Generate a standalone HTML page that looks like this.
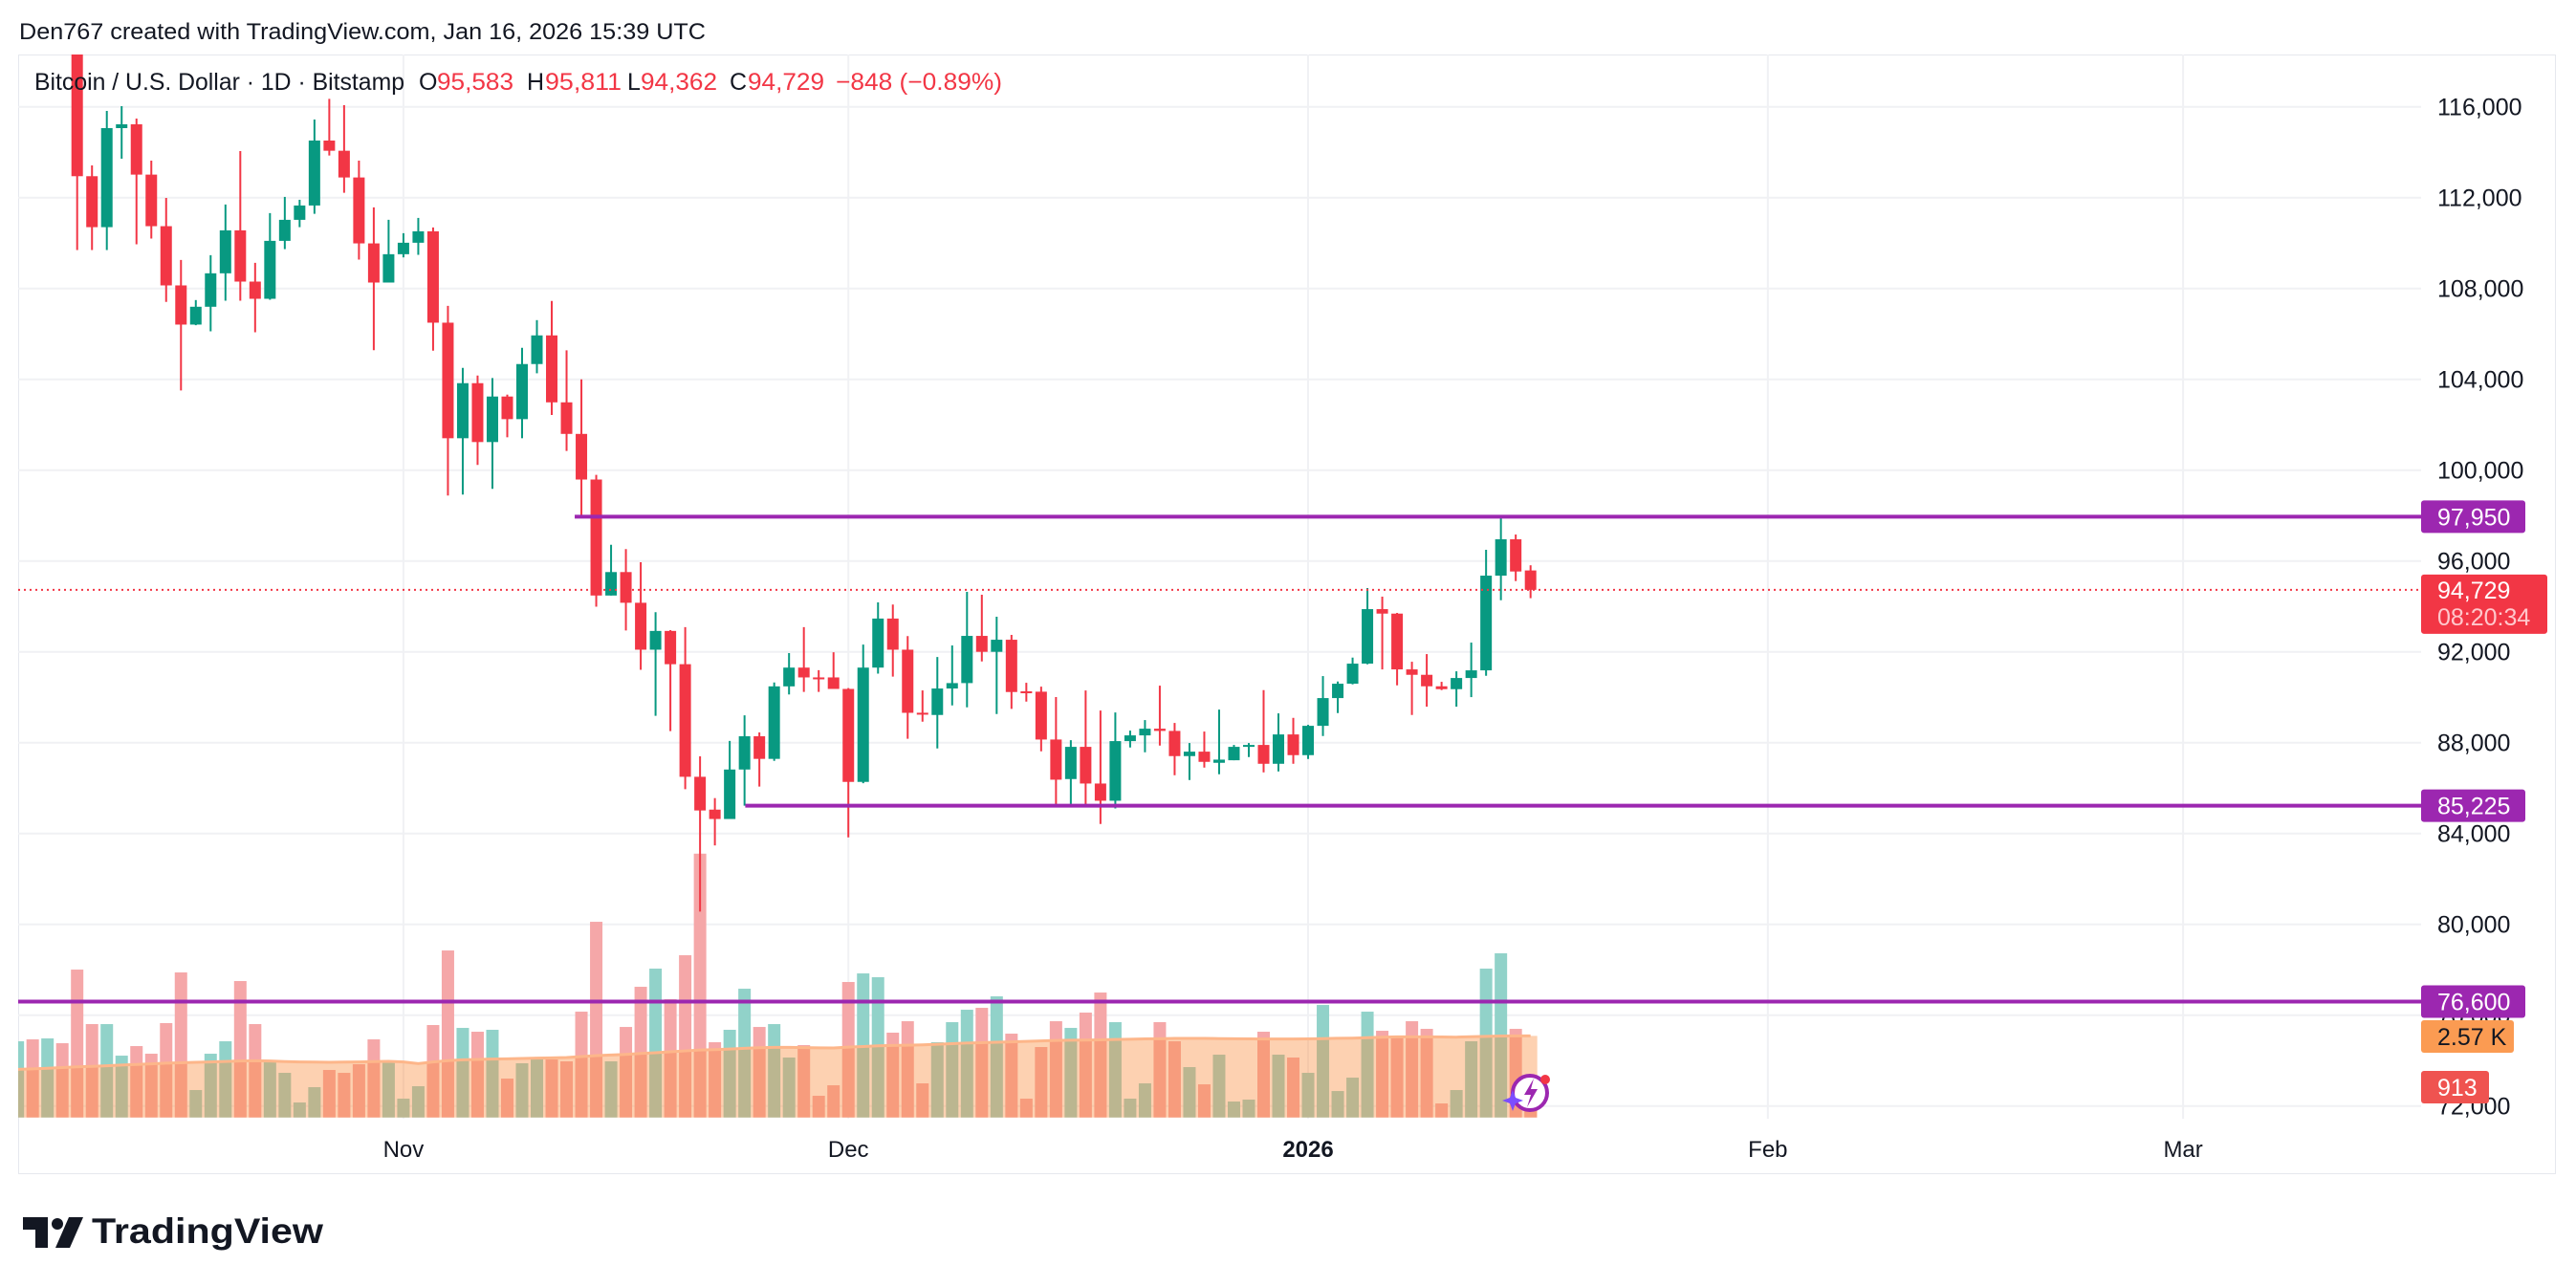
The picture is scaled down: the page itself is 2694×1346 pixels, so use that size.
<!DOCTYPE html>
<html><head><meta charset="utf-8">
<style>
html,body{margin:0;padding:0;background:#fff;}
svg{display:block;font-family:"Liberation Sans",Arial,sans-serif;}
</style></head>
<body>
<svg id="chart" width="2694" height="1346" viewBox="0 0 2694 1346" xmlns="http://www.w3.org/2000/svg">
  <rect x="0" y="0" width="2694" height="1346" fill="#ffffff"/>
  <text x="20" y="41" font-size="24" fill="#131722" textLength="718" lengthAdjust="spacingAndGlyphs">Den767 created with TradingView.com, Jan 16, 2026 15:39 UTC</text>
  <rect x="19.5" y="57.5" width="2653" height="1170" fill="none" stroke="#e6e8ee" stroke-width="1"/>
  <defs><clipPath id="plotClip"><rect x="19" y="57" width="2513" height="1113"/></clipPath></defs>
  <g id="grid"></g>
  <g id="volume" clip-path="url(#plotClip)"></g>
  <g id="candles" clip-path="url(#plotClip)"></g>
  <g id="levels"></g>
  <g id="axis"></g>
  <g id="timeaxis"></g>
  <text y="94" font-size="25">
    <tspan x="36" fill="#131722" textLength="387" lengthAdjust="spacingAndGlyphs">Bitcoin / U.S. Dollar · 1D · Bitstamp</tspan>
    <tspan x="438" fill="#131722">O</tspan><tspan x="457" fill="#f23645" textLength="80" lengthAdjust="spacingAndGlyphs">95,583</tspan>
    <tspan x="551" fill="#131722">H</tspan><tspan x="570" fill="#f23645" textLength="80" lengthAdjust="spacingAndGlyphs">95,811</tspan>
    <tspan x="656" fill="#131722">L</tspan><tspan x="670" fill="#f23645" textLength="80" lengthAdjust="spacingAndGlyphs">94,362</tspan>
    <tspan x="763" fill="#131722">C</tspan><tspan x="782" fill="#f23645" textLength="80" lengthAdjust="spacingAndGlyphs">94,729</tspan>
    <tspan x="874" fill="#f23645" textLength="174" lengthAdjust="spacingAndGlyphs">−848 (−0.89%)</tspan>
  </text>
  <g>
    <circle cx="1600" cy="1143" r="18" fill="#fff" stroke="#9c27b0" stroke-width="4"/>
    <path d="M1604 1128 L1594 1145 L1601 1145 L1597 1158 L1608 1139 L1601 1139 Z" fill="#9c27b0"/>
    <path d="M1582 1140 L1585 1148 L1593 1151 L1585 1154 L1582 1162 L1579 1154 L1571 1151 L1579 1148 Z" fill="#7c4dff"/>
    <circle cx="1616" cy="1129" r="5" fill="#f23645"/>
  </g>
  <g>
    <path d="M24 1273 H50 V1305 H37 V1286 H24 Z" fill="#131722"/>
    <circle cx="60" cy="1280" r="6" fill="#131722"/>
    <path d="M72 1273 H87 L73 1305 H58 Z" fill="#131722"/>
    <text x="96" y="1300" font-size="37" font-weight="bold" fill="#131722" textLength="242" lengthAdjust="spacingAndGlyphs">TradingView</text>
  </g>
</svg>
<script>
// ---- data (Oct 6, 2025 .. Jan 16, 2026), daily ----
const startDate = "2025-10-06";
const opens  = [123500,124700,121400,123300,121700,112944,110700,115061,115229,113014,110743,108135,106410,107195,108668,110560,108303,107546,110097,111023,111654,114514,114065,112888,109985,108261,109509,110014,110518,106494,101405,103830,101237,103242,102246,104672,105934,102986,101596,99587,94479,95512,94160,92094,92920,91455,86497,85051,84638,86817,88281,87286,90479,91305,90873,90873,90366,86272,91305,93465,92094,89317,89219,90384,90623,92701,92000,92532,90260,90244,88138,86397,87815,86200,85442,88068,88320,88615,88517,87408,87604,87113,87225,87857,87899,87070,88362,87450,88741,89963,90595,91479,93880,93683,91226,90988,90482,90356,90847,91184,95354,96955,95583];
const highs  = [126200,125200,124100,123800,122500,113420,115818,116028,115481,113631,111990,109256,107490,109467,111696,114051,109130,111317,112032,111906,115439,116350,116070,113631,111570,111023,110434,111107,110686,107237,104504,104167,104055,103326,105387,106606,107448,105277,104000,99794,96714,96526,95944,93746,92957,93089,87399,85558,88075,89202,88450,90648,91944,93089,91192,91981,90404,92319,94178,94084,92695,90300,91774,92280,94638,94512,93543,92743,90637,90468,90006,88110,90300,89416,89331,88531,88994,90510,88868,87983,88489,89457,87900,87983,90314,89289,89092,88784,90932,90693,91746,94807,94428,93712,91563,91900,90679,91142,92406,96491,97923,97165,95811];
const lows   = [123100,121000,121100,119700,109691,109691,109691,113715,109943,110196,107406,103508,106382,106116,107462,107462,106074,107504,109733,110700,111289,113855,112215,109270,105284,108261,109369,109481,105261,98882,98924,100227,99176,101447,101405,104265,102429,100845,97972,93990,94479,92939,91211,89183,88507,85953,80563,83474,84638,85225,86066,87200,90122,90235,90235,90366,83831,86216,91042,90911,88169,88924,87744,89640,89556,91579,89261,89486,89808,87618,85147,85288,85288,84417,85105,87787,87576,87871,86565,86354,86902,86607,87225,87366,86691,86733,87070,87281,88292,89303,90567,91451,91226,90524,89219,89584,90314,89584,90005,90946,94273,95115,94362];
const closes = [124700,121400,123300,121700,112944,110700,115061,115229,113014,110743,108135,106410,107195,108668,110560,108303,107546,110097,111023,111654,114514,114065,112888,109985,108261,109509,110014,110518,106494,101405,103830,101237,103242,102246,104672,105934,102986,101596,99587,94479,95512,94160,92094,92920,91455,86497,85014,84638,86817,88281,87286,90479,91305,90873,90850,90366,86272,91305,93465,92094,89314,89260,90384,90623,92701,92000,92532,90230,90230,88138,86369,87815,86200,85442,88068,88320,88615,88517,87408,87604,87155,87253,87815,87899,87070,88362,87450,88741,89963,90595,91479,93880,93683,91226,90988,90482,90356,90847,91184,95354,96955,95537,94729];
const volumes = [2414,2475,2505,2353,4686,2959,2959,1959,2262,2020,2990,4596,869,2020,2414,4323,2959,1747,1414,475,960,1505,1414,1687,2475,1808,596,990,2929,5292,2838,2717,2778,1232,1717,1869,1838,1778,3353,6201,1778,2868,4141,4717,3747,5141,8360,2384,2778,4080,2868,2959,1899,2293,687,1020,4293,4565,4444,2687,3050,1081,2384,3020,3414,3474,3838,2656,596,2232,3050,2838,3323,3959,3020,596,1081,3020,2414,1596,1050,1990,505,566,2717,1990,1899,1414,3565,838,1262,3353,2747,2535,3050,2808,444,869,2414,4717,5202,2808,913];
const volMA = [1525,1540,1560,1580,1606,1620,1640,1660,1680,1700,1720,1735,1750,1760,1775,1790,1798,1790,1770,1760,1755,1750,1755,1760,1770,1778,1760,1707,1760,1800,1828,1840,1850,1858,1870,1880,1890,1899,1930,1960,1980,2000,2030,2050,2080,2110,2140,2151,2170,2190,2210,2222,2222,2215,2205,2202,2230,2250,2270,2283,2290,2300,2320,2340,2360,2370,2384,2395,2410,2425,2440,2450,2454,2460,2470,2480,2490,2495,2505,2505,2505,2500,2495,2490,2485,2485,2485,2490,2500,2510,2515,2530,2545,2555,2555,2555,2550,2545,2560,2570,2580,2586,2586];
const priceTicks = [72000,76000,80000,84000,88000,92000,96000,100000,104000,108000,112000,116000];
const priceTickLabels = ["72,000","76,000","80,000","84,000","88,000","92,000","96,000","100,000","104,000","108,000","112,000","116,000"];
const timeTickIndex = [26,56,87,118,146];
const timeTickLabels = ["Nov","Dec","2026","Feb","Mar"];
const levelPrices = [97950,85225,76600];
const levelLabels = ["97,950","85,225","76,600"];
const levelStartIndex = [38,49.5,-1];
const lastPrice = 94729;

// ---- axis functions ----
const NS = "http://www.w3.org/2000/svg";
const PLOT_L = 19, PLOT_R = 2532, PLOT_T = 57, PLOT_B = 1170;
const X0 = 18.66, STEP = 15.51;
function xScale(i){ return X0 + i*STEP; }
function yScale(p){ return 586.7 + (96000 - p)*0.02375; }
const VOL_BASE = 1168.7, VOL_K = 1/30.3;
function vScale(v){ return VOL_BASE - v*VOL_K; }
function mk(tag, attrs, parent){ const e=document.createElementNS(NS,tag); for(const k in attrs) e.setAttribute(k,attrs[k]); parent.appendChild(e); return e; }

const grid = document.getElementById('grid');
const volG = document.getElementById('volume');
const candG = document.getElementById('candles');
const levG = document.getElementById('levels');
const axisG = document.getElementById('axis');
const timeG = document.getElementById('timeaxis');

// grid
priceTicks.forEach((p,k)=>{
  const l = mk('line',{x1:PLOT_L,x2:PLOT_R,y1:yScale(p),y2:yScale(p),stroke:'#f0f1f4','stroke-width':2},grid);
  
  
});
timeTickIndex.forEach((i,k)=>{
  const l = mk('line',{x1:xScale(i),x2:xScale(i),y1:PLOT_T,y2:PLOT_B,stroke:'#f0f1f4','stroke-width':2},grid);
  
  
  const t = mk('text',{x:xScale(i),y:1210,'font-size':24,'text-anchor':'middle',fill:'#131722','font-weight':timeTickLabels[k]==='2026'?'bold':'normal'},timeG);
  t.textContent = timeTickLabels[k];
  
  
});

// volume bars
volumes.forEach((v,i)=>{
  const up = closes[i] >= opens[i];
  const r = mk('rect',{x:xScale(i)-6.5,y:vScale(v),width:13,height:VOL_BASE-vScale(v),fill:up?'#91d2c9':'#f5a7a8'},volG);
  
  
});
// volume MA area
let d = 'M'+(xScale(0)-7)+' '+VOL_BASE;
volMA.forEach((v,i)=>{ d += ' L'+xScale(i)+' '+vScale(v); });
d += ' L'+(xScale(volMA.length-1)+7)+' '+vScale(volMA[volMA.length-1])+' L'+(xScale(volMA.length-1)+7)+' '+VOL_BASE+' Z';
const area = mk('path',{d:d,fill:'rgb(251,140,60)','fill-opacity':0.4},volG);


let dl = '';
volMA.forEach((v,i)=>{ dl += (i?' L':'M')+xScale(i)+' '+vScale(v); });
const maLine = mk('path',{d:dl,fill:'none',stroke:'#fdb68a','stroke-width':3},volG);



// candles
opens.forEach((o,i)=>{
  const c = closes[i], up = c >= o, col = up ? '#089981' : '#f23645';
  const x = xScale(i);
  const g = mk('g',{},candG);
  
  
  mk('line',{x1:x,x2:x,y1:yScale(highs[i]),y2:yScale(lows[i]),stroke:col,'stroke-width':2},g);
  const top = yScale(Math.max(o,c)), bot = yScale(Math.min(o,c));
  mk('rect',{x:x-6,y:top,width:12,height:Math.max(2,bot-top),fill:col},g);
});

// last price dotted line
const lp = mk('line',{x1:PLOT_L,x2:PLOT_R,y1:yScale(lastPrice),y2:yScale(lastPrice),stroke:'#f23645','stroke-width':2,'stroke-dasharray':'2 4'},levG);



// horizontal levels
levelPrices.forEach((p,k)=>{
  const xs = levelStartIndex[k] < 0 ? PLOT_L : xScale(levelStartIndex[k]) - 7;
  const l = mk('line',{x1:xs,x2:PLOT_R,y1:yScale(p),y2:yScale(p),stroke:'#9c27b0','stroke-width':4},levG);
  
  
});

// price axis labels
priceTicks.forEach((p,k)=>{
  const t = mk('text',{x:2549,y:yScale(p)+9,'font-size':25,fill:'#131722'},axisG);
  t.textContent = priceTickLabels[k];
  
  
});
// level labels
levelPrices.forEach((p,k)=>{
  const y = yScale(p);
  const r = mk('rect',{x:2532,y:y-17,width:109,height:34,rx:3,fill:'#9c27b0'},axisG);
  
  
  const t = mk('text',{x:2549,y:y+9,'font-size':25,fill:'#ffffff'},axisG);
  t.textContent = levelLabels[k];
  
  
});
// last price box
const ly = yScale(lastPrice);
const lb = mk('rect',{x:2532,y:ly-16,width:132,height:62,rx:3,fill:'#f23645'},axisG);


const lt = mk('text',{x:2549,y:ly+9,'font-size':25,fill:'#ffffff'},axisG);
lt.textContent = '94,729';


const ct = mk('text',{x:2549,y:ly+37,'font-size':25,fill:'#ffc8cc'},axisG);
ct.textContent = '08:20:34';


// volume labels
const ob = mk('rect',{x:2532,y:1067,width:97,height:34,rx:3,fill:'#fb9b52'},axisG);


const ot = mk('text',{x:2549,y:1093,'font-size':25,fill:'#131722'},axisG);
ot.textContent = '2.57 K';


const vb = mk('rect',{x:2532,y:1120,width:71,height:34,rx:3,fill:'#ef5350'},axisG);


const vt = mk('text',{x:2549,y:1146,'font-size':25,fill:'#ffffff'},axisG);
vt.textContent = '913';


</script>
</body></html>
